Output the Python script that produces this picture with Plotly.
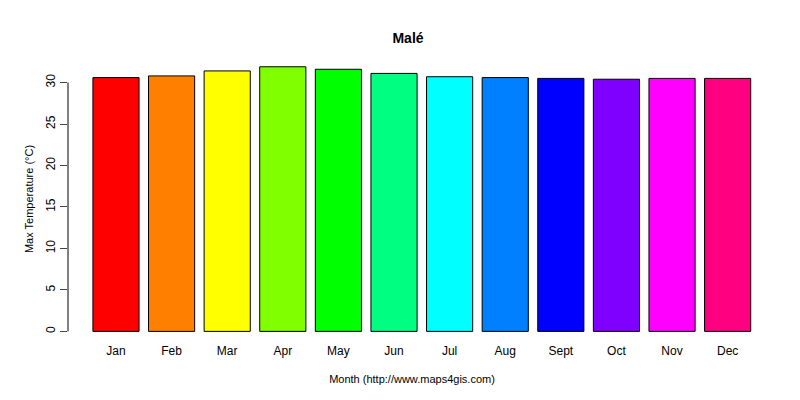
import plotly.graph_objects as go

months = ['Jan', 'Feb', 'Mar', 'Apr', 'May', 'Jun', 'Jul', 'Aug', 'Sept', 'Oct', 'Nov', 'Dec']
max_temp = [30.6, 30.8, 31.4, 31.9, 31.6, 31.1, 30.7, 30.6, 30.5, 30.4, 30.5, 30.5]
colors = ['#FF0000', '#FF8000', '#FFFF00', '#80FF00', '#00FF00', '#00FF80',
          '#00FFFF', '#0080FF', '#0000FF', '#8000FF', '#FF00FF', '#FF0080']
yticks = [0, 5, 10, 15, 20, 25, 30]

fig = go.Figure(go.Bar(x=months, y=max_temp, marker=dict(color=colors, line=dict(color='black', width=1))))

fig.update_layout(
    width=800, height=400,
    margin=dict(l=60, r=52, t=48, b=66, autoexpand=False),
    paper_bgcolor='white', plot_bgcolor='white',
    font=dict(family='Liberation Sans, Arial', size=12, color='black'),
    title=dict(text='<b>Malé</b>', x=0.5, y=0.925, yanchor='middle', xanchor='center', font=dict(size=14)),
    bargap=0.17,
    showlegend=False,
)
fig.update_xaxes(range=[-0.863, 11.51], showline=False, ticks='', showgrid=False, automargin=False,
                 title=dict(text='Month (http://www.maps4gis.com)', standoff=18, font=dict(size=11)))
fig.update_yaxes(range=[-1.28, 33.2], tickvals=yticks, ticks='outside', ticklen=7,
                 tickangle=-90, showgrid=False, zeroline=False, showline=False, automargin=False,
                 title=dict(text='Max Temperature (°C)', standoff=8, font=dict(size=11)))
fig.add_shape(type='line', xref='paper', yref='y', x0=0, x1=0, y0=0, y1=30,
              line=dict(color='black', width=1))

fig.write_html("out.html")
